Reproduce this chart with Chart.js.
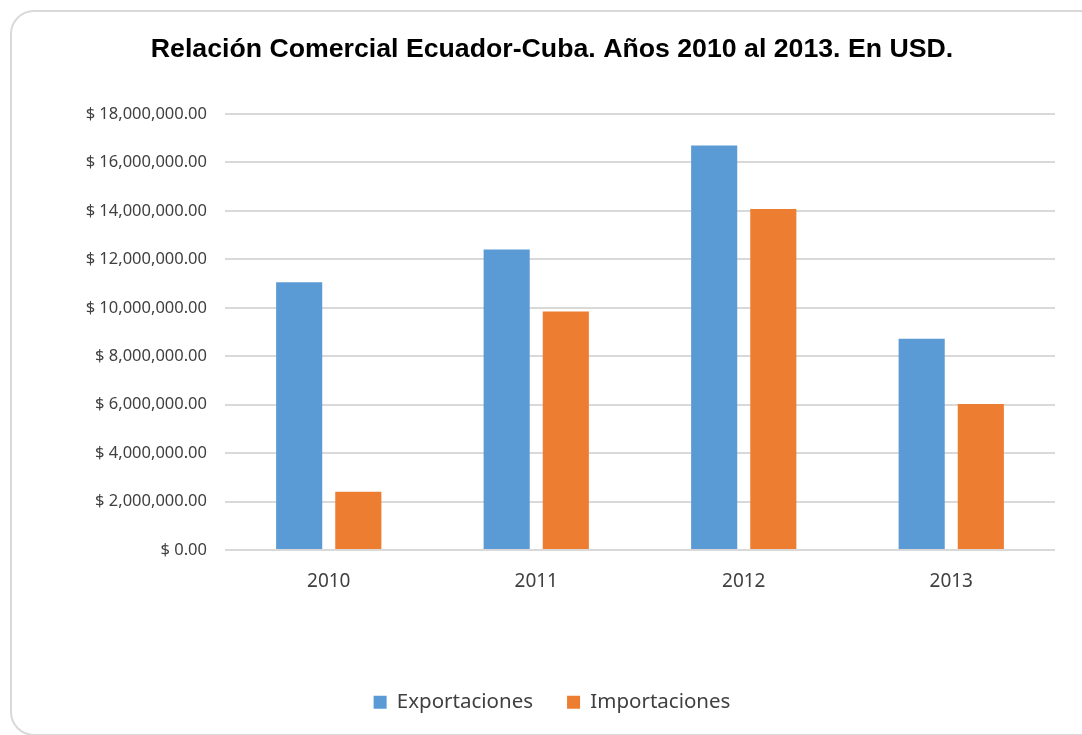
<!DOCTYPE html>
<html lang="es">
<head>
    <meta charset="UTF-8">
    <title>Relación Comercial Ecuador-Cuba</title>
    <script src="https://cdn.jsdelivr.net/npm/chart.js"></script>
    <style>
        html, body {
            margin: 0;
            padding: 0;
            background: #fff;
            overflow: hidden;
        }

        #card {
            position: absolute;
            left: 10px;
            top: 10px;
            width: 1100px;
            height: 722px;
            border: 2px solid #d9d9d9;
            border-radius: 24px;
        }

        #chart-container {
            position: absolute;
            left: 0;
            top: 0;
            width: 1082px;
            height: 735px;
        }
    </style>
</head>
<body>
    <div id="card"></div>
    <div id="chart-container">
        <canvas id="comercioChart"></canvas>
    </div>

    <script>
        // Datos
        const years = ['2010', '2011', '2012', '2013'];
        const exportaciones = [11060000, 12410000, 16700000, 8720000];
        const importaciones = [2410000, 9850000, 14080000, 6030000];
        const yMax = 18000000;
        const yStep = 2000000;

        const textColor = '#404040';
        const gridColor = '#d9d9d9';

        const ctx = document.getElementById('comercioChart').getContext('2d');

        const chart = new Chart(ctx, {
            type: 'bar',
            data: {
                labels: years,
                datasets: [{
                    label: 'Exportaciones',
                    data: exportaciones,
                    backgroundColor: '#5b9bd5',
                    categoryPercentage: 0.57,
                    barPercentage: 0.78
                }, {
                    label: 'Importaciones',
                    data: importaciones,
                    backgroundColor: '#ed7d31',
                    categoryPercentage: 0.57,
                    barPercentage: 0.78
                }]
            },
            options: {
                responsive: true,
                maintainAspectRatio: false,
                animation: false,
                layout: {
                    // left - right = 22 so the title centres at x=552
                    padding: { left: 49, right: 27, top: 30, bottom: 12.5 }
                },
                plugins: {
                    title: {
                        display: true,
                        text: 'Relación Comercial Ecuador-Cuba. Años 2010 al 2013. En USD.',
                        color: '#000',
                        font: { family: 'Liberation Sans', size: 26.7, weight: 'bold' },
                        padding: { top: 4, bottom: 48 }
                    },
                    legend: {
                        position: 'bottom',
                        labels: {
                            color: textColor,
                            font: { family: 'Noto Sans', size: 20.5 },
                            boxWidth: 13,
                            boxHeight: 13,
                            padding: 34
                        }
                    },
                    tooltip: { enabled: false }
                },
                scales: {
                    x: {
                        grid: { display: false },
                        border: { display: false },
                        ticks: {
                            color: textColor,
                            font: { family: 'Noto Sans', size: 19 },
                            padding: 12
                        },
                        afterFit: axis => { axis.height = 108; }
                    },
                    y: {
                        min: 0,
                        max: yMax,
                        grid: { color: gridColor, lineWidth: 2, drawTicks: false },
                        border: { display: false },
                        ticks: {
                            stepSize: yStep,
                            color: textColor,
                            font: { family: 'Noto Sans', size: 16.5 },
                            padding: 18,
                            callback: v => '$ ' + v.toLocaleString('en-US', { minimumFractionDigits: 2, maximumFractionDigits: 2 })
                        },
                        afterFit: axis => { axis.width = 176; }
                    }
                }
            }
        });
    </script>
</body>
</html>
